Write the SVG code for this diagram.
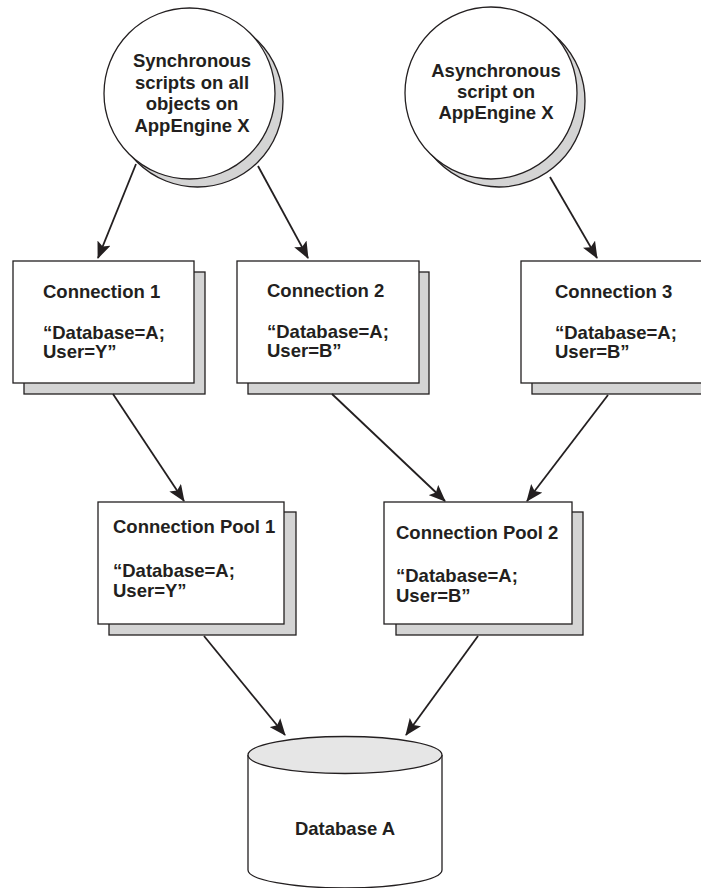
<svg xmlns="http://www.w3.org/2000/svg" width="701" height="888" viewBox="0 0 701 888">
<style>
.t{font-family:"Liberation Sans",Arial,sans-serif;font-weight:bold;font-size:18.5px;fill:#231f20}
.m{text-anchor:middle}
.sh{fill:#d4d4d4;stroke:#231f20;stroke-width:1.3}
.bx{fill:#fff;stroke:#231f20;stroke-width:1.3}
.c{stroke:#231f20;stroke-width:1.8;fill:none;marker-end:url(#ah)}
</style>
<defs>
<marker id="ah" markerWidth="18" markerHeight="14" refX="16" refY="7" orient="auto" markerUnits="userSpaceOnUse">
<path d="M0,0 L17,7 L0,14 L3.5,7 Z" fill="#231f20"/>
</marker>
</defs>
<rect width="701" height="888" fill="#fff"/>
<g id="sync">
<circle class="sh" cx="197.5" cy="101.5" r="85.5"/>
<circle class="bx" cx="189.5" cy="93.5" r="85.5"/>
<text class="t m" x="192" y="67">Synchronous</text>
<text class="t m" x="192" y="89">scripts on all</text>
<text class="t m" x="192" y="110">objects on</text>
<text class="t m" x="192" y="132">AppEngine X</text>
</g>
<g id="async">
<circle class="sh" cx="499" cy="101" r="86"/>
<circle class="bx" cx="491" cy="93" r="86"/>
<text class="t m" x="496" y="77">Asynchronous</text>
<text class="t m" x="496" y="98">script on</text>
<text class="t m" x="496" y="119">AppEngine X</text>
</g>
<g id="conn1">
<rect class="sh" x="24" y="272" width="181" height="122"/>
<rect class="bx" x="13" y="261" width="181" height="122"/>
<text class="t" x="43" y="298">Connection 1</text>
<text class="t" x="43" y="338.5">“Database=A;</text>
<text class="t" x="43" y="358">User=Y”</text>
</g>
<g id="conn2">
<rect class="sh" x="248" y="272" width="181" height="122"/>
<rect class="bx" x="237" y="261" width="182" height="122"/>
<text class="t" x="267" y="297">Connection 2</text>
<text class="t" x="267" y="337.5">“Database=A;</text>
<text class="t" x="267" y="357">User=B”</text>
</g>
<g id="conn3">
<rect class="sh" x="532" y="272" width="181" height="122"/>
<rect class="bx" x="521" y="261" width="181" height="122"/>
<text class="t" x="555" y="298">Connection 3</text>
<text class="t" x="555" y="338.5">“Database=A;</text>
<text class="t" x="555" y="358">User=B”</text>
</g>
<g id="pool1">
<rect class="sh" x="109" y="512" width="187" height="123"/>
<rect class="bx" x="98" y="502" width="186" height="122"/>
<text class="t" x="113" y="533">Connection Pool 1</text>
<text class="t" x="113" y="577">“Database=A;</text>
<text class="t" x="113" y="597">User=Y”</text>
</g>
<g id="pool2">
<rect class="sh" x="396" y="512" width="187" height="123"/>
<rect class="bx" x="384" y="502" width="188" height="122"/>
<text class="t" x="396" y="539">Connection Pool 2</text>
<text class="t" x="396" y="582">“Database=A;</text>
<text class="t" x="396" y="602">User=B”</text>
</g>
<g id="dbA">
<path d="M248,755 L248,870 A97,18 0 0 0 442,870 L442,755" fill="#fff" stroke="#231f20" stroke-width="1.3"/>
<ellipse cx="345" cy="755" rx="97" ry="18.5" fill="#e6e6e6" stroke="#231f20" stroke-width="1.3"/>
<text class="t m" x="345" y="835">Database A</text>
</g>
<g id="connectors">
<line class="c" x1="136" y1="164" x2="98" y2="258"/>
<line class="c" x1="258" y1="166" x2="308" y2="258"/>
<line class="c" x1="550" y1="177" x2="597" y2="258"/>
<line class="c" x1="113" y1="394" x2="184" y2="501"/>
<line class="c" x1="332" y1="394" x2="445" y2="501"/>
<line class="c" x1="608" y1="395" x2="527" y2="501"/>
<line class="c" x1="204" y1="636" x2="285" y2="735"/>
<line class="c" x1="478" y1="636" x2="406" y2="735"/>
</g>
</svg>
